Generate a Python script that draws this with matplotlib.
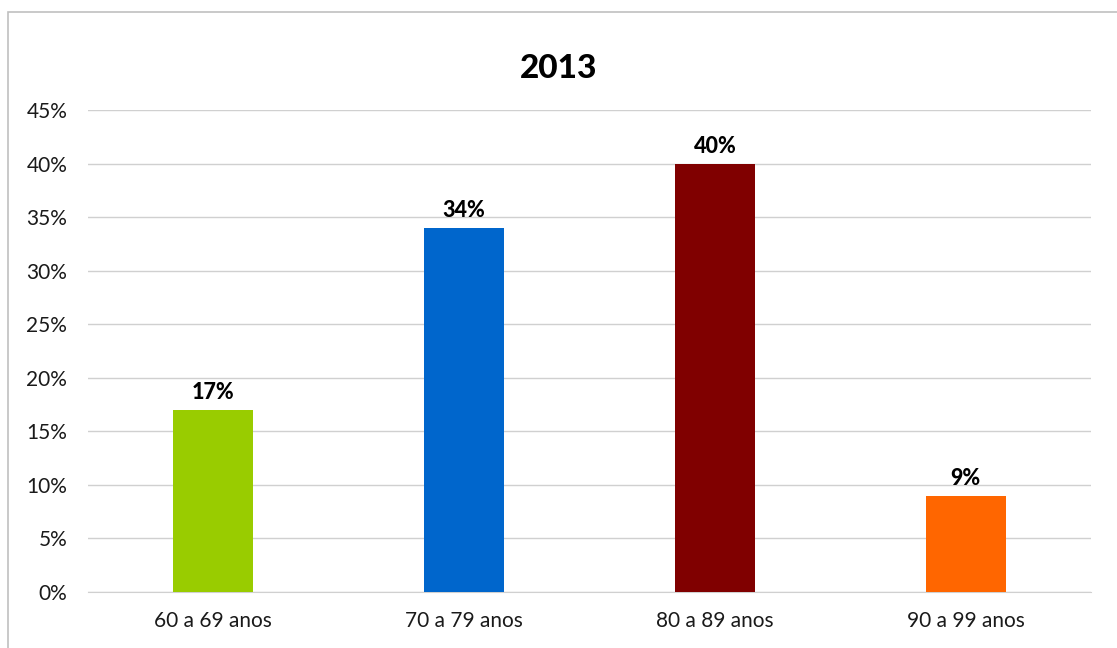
import matplotlib.pyplot as plt
from matplotlib.patches import Rectangle
from matplotlib.ticker import FuncFormatter

plt.rcParams['font.family'] = ['Lato', 'DejaVu Sans']

# Age groups and their share
faixas = ['60 a 69 anos', '70 a 79 anos', '80 a 89 anos', '90 a 99 anos']
valores = [17, 34, 40, 9]
cores = ['#99CC00', '#0066CC', '#800000', '#FF6600']
titulo = '2013'

fig = plt.figure(figsize=(11.17, 6.48), dpi=100)
ax = fig.add_axes([88 / 1117, 56 / 648, (1091 - 88) / 1117, (592 - 110) / 648])

x = range(len(faixas))
bars = ax.bar(x, valores, width=0.32, color=cores, zorder=3)

for b, v in zip(bars, valores):
    ax.annotate(f'{v}%', (b.get_x() + b.get_width() / 2, v),
                xytext=(0, 5), textcoords='offset points',
                ha='center', va='bottom', fontsize=15.5, fontweight='black')

ax.set_xlim(-0.5, len(faixas) - 0.5)
ax.set_ylim(0, 45)
ax.set_yticks(range(0, 50, 5))
ax.yaxis.set_major_formatter(FuncFormatter(lambda v, p: f'{int(v)}%'))
ax.set_xticks(list(x))
ax.set_xticklabels(faixas)
ax.tick_params(axis='both', length=0, labelsize=15, colors='#1a1a1a')
ax.tick_params(axis='y', pad=15)
ax.tick_params(axis='x', pad=14)

ax.grid(axis='y', color='#D0D0D0', linewidth=1, zorder=0)
for s in ['top', 'right', 'left']:
    ax.spines[s].set_visible(False)
ax.spines['bottom'].set_color('#D0D0D0')

fig.text(0.5, 1 - 68 / 648, titulo, ha='center', va='center',
         fontsize=24, fontweight='black')

# outer chart frame
fig.patches.append(Rectangle((8 / 1117, -0.1), 1.2, 1.1 - 12 / 648,
                             transform=fig.transFigure, fill=False,
                             edgecolor='#C0C0C0', linewidth=1.2))

fig.savefig('out.png', dpi=100)
